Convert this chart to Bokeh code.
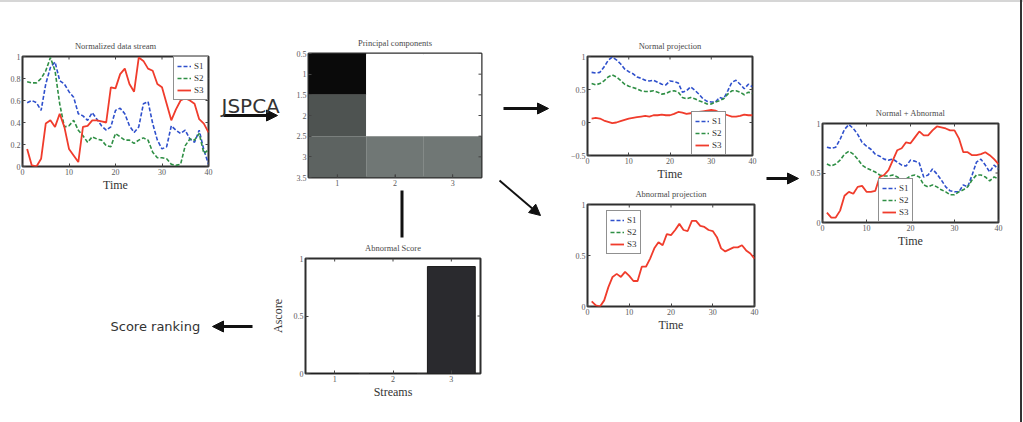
import math

from bokeh.plotting import figure
from bokeh.models import (GridBox, Range1d, FixedTicker, Legend, LegendItem, Label,
                          Arrow, NormalHead, LinearColorMapper, ColumnDataSource)
from bokeh.embed import file_html
from bokeh.resources import INLINE

# ---------------- data ----------------
time = list(range(1, 41))

# normalized input streams
raw_s1 = [0.58, 0.60, 0.58, 0.51, 0.75, 0.90, 0.95, 0.78, 0.75, 0.68, 0.63, 0.48, 0.46, 0.42,
          0.49, 0.43, 0.37, 0.33, 0.36, 0.51, 0.53, 0.48, 0.37, 0.31, 0.36, 0.57, 0.59, 0.39,
          0.24, 0.16, 0.18, 0.37, 0.33, 0.30, 0.33, 0.25, 0.22, 0.33, 0.15, 0.02]
raw_s2 = [0.77, 0.76, 0.76, 0.80, 0.87, 0.99, 0.87, 0.57, 0.36, 0.37, 0.42, 0.33, 0.28, 0.22,
          0.27, 0.25, 0.24, 0.19, 0.18, 0.30, 0.27, 0.24, 0.24, 0.21, 0.24, 0.26, 0.24, 0.13,
          0.08, 0.08, 0.07, 0.02, 0.01, 0.02, 0.19, 0.25, 0.24, 0.30, 0.12, 0.15]
raw_s3 = [0.16, 0.01, 0.00, 0.07, 0.39, 0.42, 0.36, 0.48, 0.36, 0.16, 0.10, 0.04, 0.36, 0.37,
          0.42, 0.42, 0.41, 0.40, 0.72, 0.71, 0.84, 0.89, 0.75, 0.68, 0.99, 0.96, 0.89, 0.87,
          0.75, 0.72, 0.57, 0.42, 0.52, 0.60, 0.62, 0.60, 0.57, 0.43, 0.39, 0.31]

# projection onto the normal subspace
norm_s1 = [0.76, 0.75, 0.76, 0.84, 0.94, 0.99, 0.95, 0.89, 0.81, 0.77, 0.74, 0.69, 0.67, 0.64,
           0.63, 0.64, 0.61, 0.58, 0.57, 0.63, 0.62, 0.60, 0.46, 0.48, 0.54, 0.49, 0.43, 0.36,
           0.32, 0.31, 0.31, 0.38, 0.36, 0.48, 0.61, 0.64, 0.58, 0.51, 0.58, 0.54]
norm_s2 = [0.59, 0.57, 0.59, 0.63, 0.69, 0.72, 0.69, 0.64, 0.58, 0.55, 0.53, 0.51, 0.48, 0.47,
           0.47, 0.48, 0.46, 0.43, 0.44, 0.47, 0.48, 0.46, 0.38, 0.36, 0.38, 0.36, 0.33, 0.31,
           0.28, 0.28, 0.31, 0.33, 0.36, 0.43, 0.48, 0.48, 0.46, 0.42, 0.46, 0.44]
norm_s3 = [0.06, 0.07, 0.06, 0.03, 0.01, -0.01, 0.00, 0.02, 0.04, 0.06, 0.07, 0.08, 0.09, 0.10,
           0.09, 0.11, 0.11, 0.12, 0.11, 0.11, 0.13, 0.16, 0.15, 0.13, 0.14, 0.15, 0.16, 0.17,
           0.18, 0.19, 0.18, 0.15, 0.13, 0.11, 0.09, 0.09, 0.10, 0.12, 0.11, 0.11]

# projection onto the abnormal subspace
abn_s1 = [0.0] * 40
abn_s2 = [0.0] * 40
abn_s3 = [0.05, 0.01, 0.00, 0.06, 0.19, 0.29, 0.32, 0.29, 0.34, 0.30, 0.25, 0.25, 0.39, 0.39,
          0.47, 0.57, 0.63, 0.60, 0.71, 0.70, 0.75, 0.81, 0.75, 0.74, 0.84, 0.84, 0.79, 0.78,
          0.75, 0.74, 0.68, 0.57, 0.54, 0.56, 0.58, 0.58, 0.60, 0.55, 0.52, 0.47]

# normal + abnormal
mix_s1 = norm_s1
mix_s2 = norm_s2
mix_s3 = [0.10, 0.05, 0.05, 0.12, 0.27, 0.31, 0.29, 0.36, 0.37, 0.31, 0.31, 0.32, 0.46, 0.48,
          0.53, 0.63, 0.73, 0.75, 0.81, 0.80, 0.86, 0.92, 0.88, 0.88, 0.93, 0.97, 0.96, 0.95,
          0.93, 0.93, 0.85, 0.71, 0.71, 0.68, 0.68, 0.69, 0.71, 0.68, 0.64, 0.59]

# principal component matrix (rows = streams, cols = components), grey level 0..1
pc_matrix = [[0.04, 1.00, 1.00],
             [0.32, 1.00, 1.00],
             [0.38, 0.46, 0.46]]

streams = [1, 2, 3]
stream_labels = ["1", "2", "3"]
ascore = [0.0, 0.0, 0.93]

series_names = ["S1", "S2", "S3"]
time_ticks = [0, 10, 20, 30, 40]

# ---------------- styling ----------------
SERIF = "Liberation Serif"
SANS = "DejaVu Sans"
BLUE, GREEN, RED = "#2f50cc", "#2f8f45", "#f03c2c"
FRAME = "#2e2e2e"
TICKC = "#5a5a5a"
PAGE_W, PAGE_H = 1023, 422
# border sizes shared by every figure in the grid cell (left, top, right, bottom)
BL, BT, BR, BB = 45, 30, 15, 35


def fmt(t):
    s = f"{t:g}"
    return s.replace("-", "\u2212")


def make_panel(left, top, frame_w, frame_h, title, xr, yr, xticks, yticks,
               xlabel=None, ylabel=None, xlabels=None):
    p = figure(width=BL + frame_w + BR, height=BT + frame_h + BB,
               x_range=xr, y_range=yr, output_backend="svg", toolbar_location=None,
               min_border_left=BL, min_border_top=BT, min_border_right=BR,
               min_border_bottom=BB, margin=(top - BT, 0, 0, left - BL))
    p.border_fill_alpha = 0
    p.background_fill_color = "white"
    p.outline_line_color = FRAME
    p.outline_line_width = 2
    p.grid.visible = False
    p.title.text = title
    p.title.text_font = SERIF
    p.title.text_font_size = "8.5px"
    p.title.text_font_style = "normal"
    p.title.text_color = "#4a4a4a"
    p.title.align = "center"
    p.title.standoff = 11
    xa, ya = p.xaxis[0], p.yaxis[0]
    for ax, ticks in ((xa, xticks), (ya, yticks)):
        ax.ticker = FixedTicker(ticks=ticks)
        ax.major_label_overrides = {t: fmt(t) for t in ticks}
        ax.axis_line_color = None
        ax.major_tick_in = 3
        ax.major_tick_out = 0
        ax.minor_tick_out = 0
        ax.major_tick_line_color = "#444444"
        ax.minor_tick_line_color = None
        ax.major_label_text_font = SERIF
        ax.major_label_text_font_size = "8px"
        ax.major_label_text_color = TICKC
        ax.major_label_standoff = 2
        ax.axis_label_text_font = SERIF
        ax.axis_label_text_font_style = "normal"
        ax.axis_label_text_font_size = "12px"
        ax.axis_label_text_color = "#333333"
        ax.axis_label_standoff = 0
    if xlabels is not None:
        xa.major_label_overrides = {t: s for t, s in zip(xticks, xlabels)}
    if xlabel:
        xa.axis_label = xlabel
    if ylabel:
        ya.axis_label = ylabel
        ya.axis_label_standoff = 6
    # box-style inner tick marks on the top and right edges
    y_top = max(yr.start, yr.end)
    x_right = max(xr.start, xr.end)
    p.scatter(x=xticks, y=[y_top] * len(xticks), marker="dash", angle=math.pi / 2,
              size=6, line_color="#444444", line_width=1)
    p.scatter(x=[x_right] * len(yticks), y=yticks, marker="dash",
              size=6, line_color="#444444", line_width=1)
    return p


def add_series(p, ys_list, location, hidden=()):
    styles = [(BLUE, "4 2", 1.6), (GREEN, "4 2", 1.6), (RED, "solid", 1.8)]
    items = []
    for name, ys, (c, dash, w) in zip(series_names, ys_list, styles):
        r = p.line(time, ys, line_color=c, line_dash=dash, line_width=w,
                   visible=name not in hidden)
        items.append(LegendItem(label=name, renderers=[r]))
    leg = Legend(items=items, location=location, margin=0, padding=3, spacing=0,
                 glyph_width=14, glyph_height=12, label_height=12, label_width=10,
                 label_standoff=3, label_text_font=SERIF, label_text_font_size="9px",
                 label_text_color="#333333", border_line_color="#222222",
                 border_line_width=1.5, background_fill_color="white",
                 background_fill_alpha=1)
    p.add_layout(leg)


children = []

# ---------------- canvas with arrows and captions (data units = page pixels) ----------------
bg = figure(width=PAGE_W, height=PAGE_H,
            x_range=Range1d(BL, PAGE_W - BR), y_range=Range1d(PAGE_H - BB, BT),
            output_backend="svg", toolbar_location=None, min_border=0,
            x_axis_location=None, y_axis_location=None)
bg.title = None
bg.grid.visible = False
bg.outline_line_color = None
bg.background_fill_alpha = 0
bg.border_fill_alpha = 0

arrows = [
    (223, 115, 277, 115, 3),
    (503, 108, 548, 108, 3),
    (499, 180, 540, 215, 2),
    (766, 178, 798, 178, 3),
    (252, 326, 212, 326, 3),
]
for x0, y0, x1, y1, w in arrows:
    bg.add_layout(Arrow(end=NormalHead(size=11, fill_color="#111111", line_color="#111111"),
                        x_start=x0, y_start=y0, x_end=x1, y_end=y1,
                        line_width=w, line_color="#111111"))
bg.add_layout(Arrow(end=None, x_start=401.5, y_start=190, x_end=401.5, y_end=237,
                    line_width=3, line_color="#111111"))
bg.add_layout(Label(x=221, y=105, text="JSPCA", text_font=SANS, text_font_size="20px",
                    text_color="#333333", text_baseline="alphabetic"))
bg.add_layout(Label(x=110, y=326, text="Score ranking", text_font=SANS,
                    text_font_size="13px", text_color="#333333", text_baseline="middle"))
children.append((bg, 0, 0))

# ---------------- normalized data stream ----------------
p1 = make_panel(22, 56, 186, 110, "Normalized data stream",
                Range1d(0, 40), Range1d(0, 1), time_ticks, [0, 0.2, 0.4, 0.6, 0.8, 1],
                xlabel="Time")
add_series(p1, [raw_s1, raw_s2, raw_s3], "top_right")
children.append((p1, 0, 0))

# ---------------- principal components ----------------
p2 = make_panel(308, 53, 173, 124, "Principal components",
                Range1d(0.5, 3.5), Range1d(3.5, 0.5), [1, 2, 3],
                [0.5, 1, 1.5, 2, 2.5, 3, 3.5])
grey = []
for i in range(256):
    f = i / 255
    if f <= 0.5:
        k = f / 0.5
        rgb = (0x7a * k, 0x82 * k, 0x80 * k)
    else:
        k = (f - 0.5) / 0.5
        rgb = (0x7a + (255 - 0x7a) * k, 0x82 + (255 - 0x82) * k, 0x80 + (255 - 0x80) * k)
    grey.append("#%02x%02x%02x" % tuple(int(round(c)) for c in rgb))
mapper = LinearColorMapper(palette=grey, low=0, high=1)
cells = ColumnDataSource(dict(
    col=[c + 1 for r in range(3) for c in range(3)],
    row=[r + 1 for r in range(3) for c in range(3)],
    v=[pc_matrix[r][c] for r in range(3) for c in range(3)],
))
p2.rect(x="col", y="row", width=1, height=1, source=cells,
        fill_color={"field": "v", "transform": mapper}, line_color=None, level="underlay")
children.append((p2, 0, 0))

# ---------------- normal projection ----------------
p3 = make_panel(587, 56, 165, 99, "Normal projection",
                Range1d(0, 40), Range1d(-0.5, 1), time_ticks, [-0.5, 0, 0.5, 1],
                xlabel="Time")
add_series(p3, [norm_s1, norm_s2, norm_s3], (104, 0))
children.append((p3, 0, 0))

# ---------------- abnormal projection ----------------
p4 = make_panel(587, 204, 167, 102, "Abnormal projection",
                Range1d(0, 40), Range1d(0, 1), time_ticks, [0, 0.5, 1], xlabel="Time")
add_series(p4, [abn_s1, abn_s2, abn_s3], (19, 52), hidden=("S1", "S2"))
children.append((p4, 0, 0))

# ---------------- normal + abnormal ----------------
p5 = make_panel(822, 123, 176, 99, "Normal + Abnormal",
                Range1d(0, 40), Range1d(0, 1), time_ticks, [0, 0.5, 1], xlabel="Time")
add_series(p5, [mix_s1, mix_s2, mix_s3], (56, 0))
children.append((p5, 0, 0))

# ---------------- abnormal score ----------------
p6 = make_panel(305, 258, 175, 115, "Abnormal Score",
                Range1d(0.5, 3.5), Range1d(0, 1), streams, [0, 0.5, 1],
                xlabel="Streams", ylabel="Ascore", xlabels=stream_labels)
p6.vbar(x=streams, top=ascore, width=0.82, fill_color="#2a2a2e", line_color="#1a1a1a",
        level="underlay")
children.append((p6, 0, 0))

# page edges: thin grey rule along the top, dark rule down the right side
page_bg = ("linear-gradient(to left, transparent 0px, transparent 1px, #333333 1px, "
           "#333333 3px, transparent 3px), "
           "linear-gradient(to bottom, #d6d6d6 0px, #d6d6d6 2px, #ffffff 2px)")
layout = GridBox(children=children, spacing=0, styles={"background": page_bg})
open("out.html", "w").write(file_html(layout, INLINE))
